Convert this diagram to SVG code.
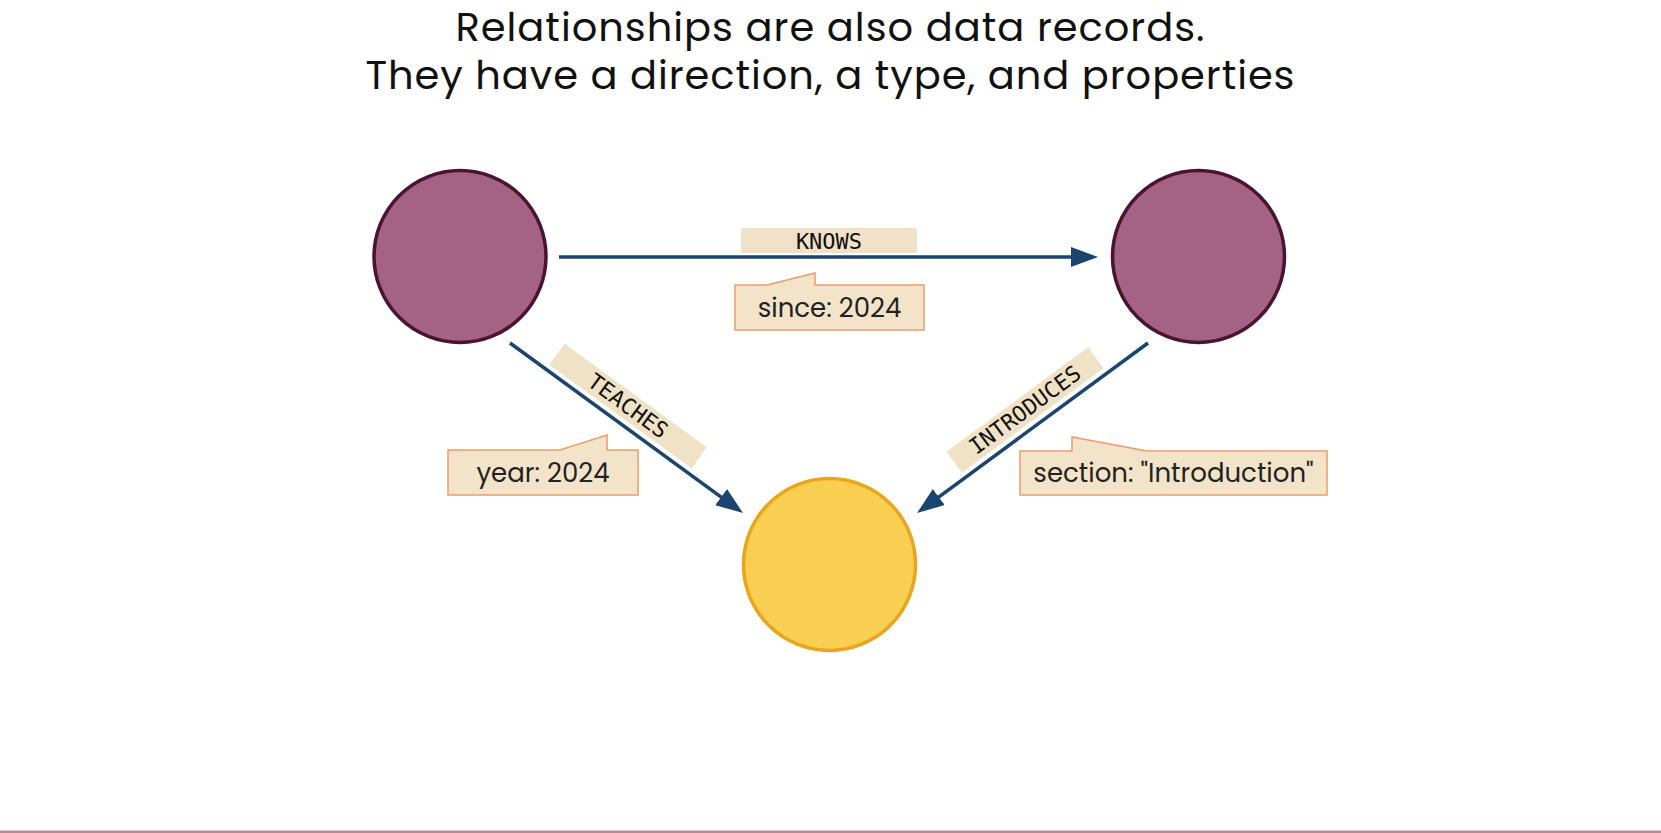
<svg xmlns="http://www.w3.org/2000/svg" width="1661" height="833" viewBox="0 0 1661 833">
<defs>
<style>
.title{font-family:"Poppins","Inter","Liberation Sans",sans-serif;font-size:40px;fill:#111;text-anchor:middle}
.node-p{fill:#a46382;stroke:#4b1331;stroke-width:3.5}
.node-y{fill:#f9cf52;stroke:#eaa41d;stroke-width:3.5}
.edge{stroke:#1b4570;stroke-width:3.5;fill:none;marker-end:url(#ah)}
.rlabel{fill:#efe2c6}
.rtext{font-family:"DejaVu Sans Mono","Liberation Mono",monospace;font-size:22px;fill:#111;text-anchor:middle;dominant-baseline:central}
.prop{fill:#f3e4c9;stroke:#ec9c6c;stroke-width:1.5}
.ptext{font-family:"Poppins","Inter","Liberation Sans",sans-serif;font-size:26px;fill:#222;text-anchor:middle}
</style>
<marker id="ah" markerUnits="userSpaceOnUse" markerWidth="28" markerHeight="22" refX="17" refY="10" orient="auto" viewBox="0 0 28 20">
<path d="M0,0 L27,10 L0,20 Z" fill="#1b4570"/>
</marker>
</defs>
<rect width="1661" height="833" fill="#ffffff"/>
<rect x="0" y="830.5" width="1661" height="2.5" fill="#bb8a90"/>
<g id="title">
<text class="title" x="830" y="41" textLength="749" lengthAdjust="spacing">Relationships are also data records.</text>
<text class="title" x="830" y="89" textLength="929" lengthAdjust="spacing">They have a direction, a type, and properties</text>
</g>
<g id="connectors">
<g id="edge-knows">
<line class="edge" x1="559" y1="257" x2="1088" y2="257"/>
<rect class="rlabel" x="741" y="228" width="176" height="25"/>
<text class="rtext" x="829" y="241">KNOWS</text>
</g>
<g id="edge-teaches">
<line class="edge" x1="510" y1="343" x2="734.9" y2="507.1"/>
<g transform="translate(628,406) rotate(36.1)">
<rect class="rlabel" x="-88" y="-13" width="176" height="26"/>
<text class="rtext" x="0" y="0">TEACHES</text>
</g>
</g>
<g id="edge-introduces">
<line class="edge" x1="1148" y1="343" x2="925.1" y2="507.1"/>
<g transform="translate(1025,410) rotate(-36.4)">
<rect class="rlabel" x="-88" y="-13" width="176" height="26"/>
<text class="rtext" x="0" y="0">INTRODUCES</text>
</g>
</g>
</g>
<g id="prop-since">
<path class="prop" d="M735,285 L767,285 L815,273 L815,285 L924,285 L924,330 L735,330 Z"/>
<text class="ptext" x="829.5" y="317">since: 2024</text>
</g>
<g id="prop-year">
<path class="prop" d="M448,450 L560,450 L607,435 L607,450 L638,450 L638,495 L448,495 Z"/>
<text class="ptext" x="543" y="482">year: 2024</text>
</g>
<g id="prop-section">
<path class="prop" d="M1020,451 L1072,451 L1072,437 L1147,451 L1327,451 L1327,495 L1020,495 Z"/>
<text class="ptext" x="1173.5" y="482">section: "Introduction"</text>
</g>
<g id="node-a">
<circle class="node-p" cx="460" cy="256.5" r="86"/>
</g>
<g id="node-b">
<circle class="node-p" cx="1198.5" cy="256.5" r="86"/>
</g>
<g id="node-c">
<circle class="node-y" cx="829.5" cy="564.5" r="86"/>
</g>
</svg>
